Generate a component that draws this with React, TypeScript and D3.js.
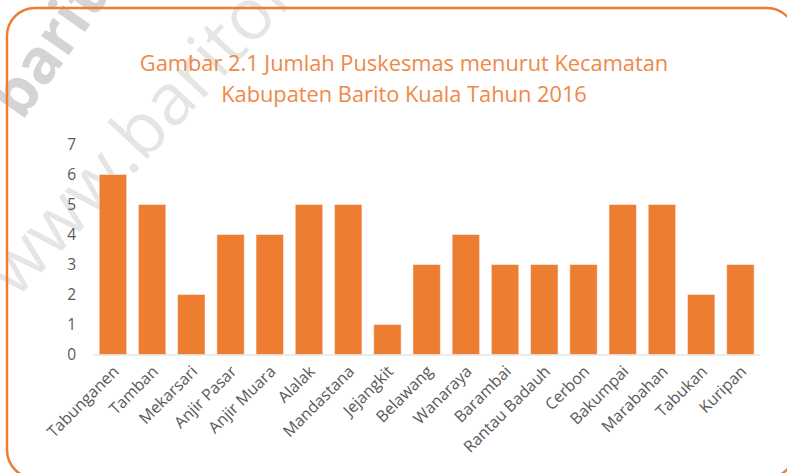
import React from "react";
import * as d3 from "d3";

const categories = [
  "Tabunganen", "Tamban", "Mekarsari", "Anjir Pasar", "Anjir Muara", "Alalak",
  "Mandastana", "Jejangkit", "Belawang", "Wanaraya", "Barambai", "Rantau Badauh",
  "Cerbon", "Bakumpai", "Marabahan", "Tabukan", "Kuripan",
];
const values = [6, 5, 2, 4, 4, 5, 5, 1, 3, 4, 3, 3, 3, 5, 5, 2, 3];
const yTicks = [0, 1, 2, 3, 4, 5, 6, 7];
const titleLines = [
  "Gambar 2.1 Jumlah Puskesmas menurut Kecamatan",
  "Kabupaten Barito Kuala Tahun 2016",
];

const W = 787;
const H = 473;
const ORANGE = "#ED7D31";
const FONT = "'Open Sans', 'Noto Sans', sans-serif";

export default function App() {
  const x = d3
    .scaleBand<string>()
    .domain(categories)
    .range([93.3, 760])
    .paddingInner(0.3)
    .paddingOuter(0.15);
  const y = d3.scaleLinear().domain([0, 7]).range([354.5, 144.5]);

  return (
    <svg
      width={W}
      height={H}
      style={{ position: "fixed", left: 0, top: 0, background: "#fff" }}
      fontFamily={FONT}
    >
      <rect x={0} y={0} width={W} height={H} fill="#fff" />
      {/* watermark */}
      <text
        x={0}
        y={0}
        transform="translate(16,300) rotate(-47)"
        fontSize={72}
        fill="#000"
        fillOpacity={0.1}
        fontFamily={FONT}
      >
        www.baritokualakab.go.id
      </text>
      <text
        x={0}
        y={0}
        transform="translate(22,122) rotate(-55)"
        fontSize={62}
        fontWeight={700}
        fill="#000"
        fillOpacity={0.17}
        fontFamily={FONT}
      >
        baritokuala
      </text>
      <rect
        x={7}
        y={8}
        width={788}
        height={470}
        rx={28}
        ry={28}
        fill="none"
        stroke={ORANGE}
        strokeWidth={2.5}
      />
      {titleLines.map((t, i) => (
        <text
          key={i}
          x={404}
          y={71 + i * 31}
          textAnchor="middle"
          fontSize={21.8}
          fill="#EF8848"
        >
          {t}
        </text>
      ))}
      {yTicks.map((t) => (
        <text
          key={t}
          x={76}
          y={y(t)}
          dy="0.36em"
          textAnchor="end"
          fontSize={15.5}
          fill="#595959"
        >
          {t}
        </text>
      ))}
      {categories.map((c, i) => (
        <rect
          key={c}
          x={x(c)}
          y={y(values[i])}
          width={x.bandwidth()}
          height={y(0) - y(values[i])}
          fill={ORANGE}
          stroke="#fff"
          strokeOpacity={0.5}
          strokeWidth={1}
        />
      ))}
      <line
        x1={93.3}
        x2={760}
        y1={y(0) + 0.5}
        y2={y(0) + 0.5}
        stroke="#D9D9D9"
        strokeWidth={1}
      />
      {categories.map((c) => {
        const cx = (x(c) as number) + x.bandwidth() / 2 + 3;
        const cy = y(0) + 14;
        return (
          <text
            key={c}
            transform={`translate(${cx},${cy}) rotate(-45)`}
            textAnchor="end"
            dy="0.35em"
            fontSize={16}
            fill="#595959"
          >
            {c}
          </text>
        );
      })}
    </svg>
  );
}
